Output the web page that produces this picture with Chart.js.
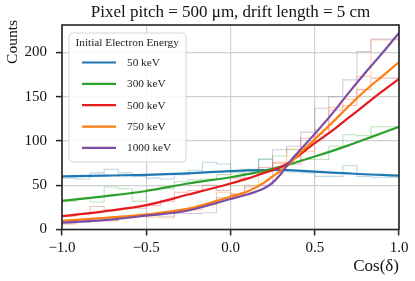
<!DOCTYPE html>
<html><head><meta charset="utf-8">
<script src="https://cdn.jsdelivr.net/npm/chart.js@4.4.1/dist/chart.umd.min.js"></script>
<style>html,body{margin:0;padding:0;background:#fff;}#wrap{width:415px;height:281px;}</style>
</head><body><div id="wrap"><canvas id="c" width="415" height="281"></canvas></div>
<script>
const titleText = 'Pixel pitch = 500 \u03bcm, drift length = 5 cm';
const yLabel = 'Counts';
const xLabel = 'Cos(\u03b4)';
const legendTitle = 'Initial Electron Energy';
const energies = ['50 keV', '300 keV', '500 keV', '750 keV', '1000 keV'];
const lineColors = ['#1f77b4', '#2ca02c', '#e41a1c', '#ff7f0e', '#7b4ea3'];
const histColors = ['rgba(31,119,180,0.3)', 'rgba(44,160,44,0.3)', 'rgba(228,26,28,0.3)', 'rgba(255,127,14,0.35)', 'rgba(123,78,163,0.3)'];
const xTicks = [-1, -0.5, 0, 0.5, 1];
const yTicks = [0, 50, 100, 150, 200];

// smooth fitted curves
const curveX = [-1, -0.75, -0.5, -0.25, 0, 0.1, 0.2, 0.25, 0.3, 0.35, 0.4, 0.5, 0.6, 0.7, 0.8, 0.9, 1];
const fit50   = [60, 60.8, 61.8, 63.5, 66, 66.7, 67.2, 67.3, 67.3, 67, 66.5, 65.3, 64.2, 63.3, 62.4, 61.6, 60.8];
const fit300  = [32.3, 37.5, 43.5, 52, 59, 62.5, 66.5, 68.5, 71, 73.5, 76.5, 82.5, 88.5, 95, 102, 109, 116];
const fit500  = [15, 20.5, 27.5, 39.5, 52, 57.5, 64, 67, 70.5, 76, 83, 97.5, 111, 126, 141, 156, 170];
const fit750  = [9.8, 13, 17, 23.5, 37, 43, 53, 60, 66.5, 74, 84, 102, 120, 139, 157, 173, 189];
const fit1000 = [7.8, 10.5, 15.6, 21.5, 34.5, 39.5, 46.5, 53, 63, 76, 87, 108, 130, 154, 177, 199, 222];

// step histograms (24 bins)
const binEdges = [-1, -0.9167, -0.8333, -0.75, -0.6667, -0.5833, -0.5, -0.4167, -0.3333, -0.25, -0.1667, -0.0833,
                  0, 0.0833, 0.1667, 0.25, 0.3333, 0.4167, 0.5, 0.5833, 0.6667, 0.75, 0.8333, 0.9167, 1];
const hist50   = [61, 58, 57, 64, 68, 64, 60, 58, 57, 62, 67, 76, 74, 66, 66, 79, 66, 65, 64, 60, 60, 72, 60, 59];
const hist300  = [33, 32, 35, 31, 48, 46, 32, 45, 46, 54, 56, 57, 62, 64, 68, 80, 83, 90, 79, 79, 94, 107, 106, 116];
const hist500  = [13, 15, 17, 26, 22, 24, 24, 27, 32, 42, 44, 50, 44, 58, 63, 70, 75, 74, 103, 108, 135, 140, 158, 171];
const hist750  = [10, 6, 11, 13, 10, 14, 16, 14, 13, 22, 22, 28, 42, 40, 50, 66, 76, 91, 88, 113, 138, 147, 173, 214];
const hist1000 = [6, 7, 8, 10, 10, 14, 16, 16, 15, 18, 18, 19, 36, 40, 48, 50, 90, 94, 110, 137, 150, 169, 201, 215];

const fits = [fit50, fit300, fit500, fit750, fit1000];
const hists = [hist50, hist300, hist500, hist750, hist1000];
const SERIF = "'Liberation Serif', 'Times New Roman', 'DejaVu Serif', serif";

const datasets = [];
fits.forEach((f, i) => {
  datasets.push({
    label: energies[i],
    data: curveX.map((x, j) => ({x: x, y: f[j]})),
    borderColor: lineColors[i], borderWidth: 2.2, pointRadius: 0,
    cubicInterpolationMode: 'monotone', fill: false, order: 5 - i
  });
});
hists.forEach((h, i) => {
  datasets.push({
    label: energies[i] + ' hist',
    data: binEdges.map((x, j) => ({x: x, y: h[Math.min(j, h.length - 1)]})),
    borderColor: histColors[i], borderWidth: 1.1, pointRadius: 0,
    stepped: 'after', fill: false, order: 20 - i
  });
});

const framePlugin = {
  id: 'frame',
  afterDatasetsDraw(chart) {
    const {ctx, chartArea: a} = chart;
    ctx.save();
    ctx.strokeStyle = '#222';
    ctx.lineWidth = 1.6;
    ctx.strokeRect(a.left, a.top, a.right - a.left, a.bottom - a.top);
    ctx.restore();
  },
  afterDraw(chart) {
    const {ctx, chartArea: a} = chart;
    ctx.save();
    ctx.font = "17px " + SERIF;
    ctx.fillStyle = '#111';
    ctx.textAlign = 'center';
    ctx.textBaseline = 'middle';
    ctx.fillText(titleText, (a.left + a.right) / 2, 12.5);
    // y-axis label, top-aligned
    ctx.font = "15.5px " + SERIF;
    ctx.translate(13, 20);
    ctx.rotate(-Math.PI / 2);
    ctx.textAlign = 'right';
    ctx.fillText(yLabel, 0, 0);
    ctx.restore();
  }
};

const legendPlugin = {
  id: 'boxLegend',
  afterDraw(chart) {
    const ctx = chart.ctx;
    const x0 = 69, y0 = 33, w = 117, h = 129, r = 4;
    ctx.save();
    ctx.beginPath();
    ctx.moveTo(x0 + r, y0);
    ctx.arcTo(x0 + w, y0, x0 + w, y0 + h, r);
    ctx.arcTo(x0 + w, y0 + h, x0, y0 + h, r);
    ctx.arcTo(x0, y0 + h, x0, y0, r);
    ctx.arcTo(x0, y0, x0 + w, y0, r);
    ctx.closePath();
    ctx.fillStyle = 'rgba(255,255,255,0.85)';
    ctx.fill();
    ctx.strokeStyle = '#d6d6d6';
    ctx.lineWidth = 1;
    ctx.stroke();
    ctx.font = "11.3px " + SERIF;
    ctx.fillStyle = '#222';
    ctx.textBaseline = 'middle';
    ctx.textAlign = 'left';
    ctx.fillText(legendTitle, 75.5, 43.5);
    energies.forEach((lab, i) => {
      const y = 62.5 + i * 21.35;
      ctx.strokeStyle = lineColors[i];
      ctx.lineWidth = 2.2;
      ctx.beginPath();
      ctx.moveTo(82, y); ctx.lineTo(116, y);
      ctx.stroke();
      ctx.fillText(lab, 127, y + 0.5);
    });
    ctx.restore();
  }
};

new Chart(document.getElementById('c'), {
  type: 'line',
  data: {datasets: datasets},
  options: {
    responsive: false, animation: false, devicePixelRatio: 1,
    layout: {padding: {left: 0, right: 16, top: 25, bottom: 0}},
    plugins: {
      legend: {display: false}, tooltip: {enabled: false}, title: {display: false}
    },
    scales: {
      x: {
        type: 'linear', min: -1, max: 1,
        afterFit(s) { s.height = 51.5; },
        afterBuildTicks(s) { s.ticks = xTicks.map(v => ({value: v})); },
        ticks: {color: '#111', font: {family: SERIF, size: 15}, padding: 4, maxRotation: 0,
          callback: v => v.toFixed(1).replace('-', '\u2212')},
        grid: {color: '#d0d0d0', lineWidth: 1.2, tickColor: '#222', tickLength: 6, tickWidth: 1.5},
        border: {display: false},
        title: {display: true, text: xLabel, align: 'end', color: '#111',
          font: {family: SERIF, size: 17, lineHeight: 1.2}, padding: {top: 0, bottom: 4}}
      },
      y: {
        type: 'linear', min: 0, max: 231,
        afterFit(s) { s.width = 62; },
        afterBuildTicks(s) { s.ticks = yTicks.map(v => ({value: v})); },
        ticks: {color: '#111', font: {family: SERIF, size: 15}, padding: 9},
        grid: {color: '#d0d0d0', lineWidth: 1.2, tickColor: '#222', tickLength: 6, tickWidth: 1.5},
        border: {display: false},
        title: {display: false}
      }
    }
  },
  plugins: [framePlugin, legendPlugin]
});
</script>
</body></html>
